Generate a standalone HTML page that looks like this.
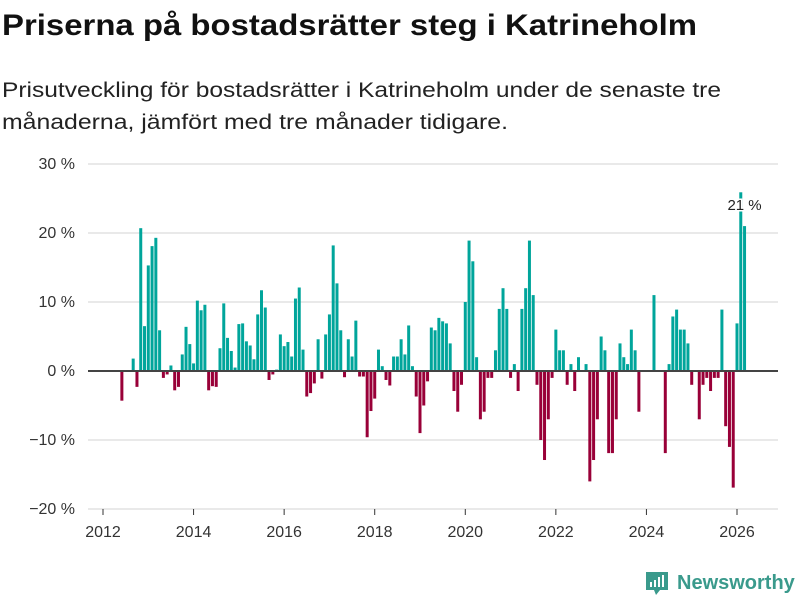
<!DOCTYPE html>
<html><head><meta charset="utf-8"><style>
body{margin:0;background:#fff;width:800px;height:600px;overflow:hidden;font-family:"Liberation Sans",sans-serif}
</style></head><body>
<svg id="chart" width="800" height="600" xmlns="http://www.w3.org/2000/svg">
<text x="2" y="35" font-size="30" font-weight="bold" fill="#111" textLength="695" lengthAdjust="spacingAndGlyphs">Priserna på bostadsrätter steg i Katrineholm</text>
<text x="2" y="97" font-size="21.5" fill="#222" textLength="719" lengthAdjust="spacingAndGlyphs">Prisutveckling för bostadsrätter i Katrineholm under de senaste tre</text>
<text x="2" y="129" font-size="21.5" fill="#222" textLength="506" lengthAdjust="spacingAndGlyphs">månaderna, jämfört med tre månader tidigare.</text>
<g id="grid"></g><g id="bars"></g><g id="axes"></g>
<g>
<path d="M646 572 h22 v18 h-8 l-4 5 l-2-5 h-8 z" fill="#3a9a8c"/>
<rect x="650" y="582" width="2" height="5" fill="#fff"/><rect x="654" y="580" width="2" height="7" fill="#fff"/><rect x="658" y="577" width="2" height="10" fill="#fff"/><rect x="662" y="575" width="2" height="12" fill="#fff"/>
<text x="677" y="589" font-size="20" font-weight="bold" fill="#3a9a8c">Newsworthy</text>
</g>
</svg>
<script>
const startYear = 2012;
const values = [null,null,null,null,null,-4.3,null,null,
1.8,-2.3,20.7,6.5,15.3,18.1,19.3,5.9,-1,-0.5,0.8,-2.8,-2.3,2.4,6.4,3.9,1.1,10.2,8.8,9.6,-2.8,-2.2,-2.3,3.3,9.8,4.8,2.9,0.5,6.8,6.9,4.3,3.7,1.7,8.2,11.7,9.2,-1.3,-0.5,
0.2,5.3,3.6,4.2,2.1,10.5,12.1,3.1,-3.7,-3.2,-1.8,4.6,-1.1,5.3,8.2,18.2,12.7,5.9,-0.9,4.6,2.1,7.3,-0.8,-0.8,-9.6,-5.8,-4.0,3.1,0.7,-1.3,-2.1,2.1,2.1,4.6,2.4,6.6,0.7,-3.7,-9.0,-5.0,-1.5,6.3,5.9,7.7,7.2,6.9,4.0,
-2.9,-5.9,-2.0,10.0,18.9,15.9,2.0,-7.0,-5.9,-1.0,-1.0,3.0,9.0,12.0,9.0,-1.0,1.0,-2.9,9.0,12.0,18.9,11.0,-2.0,-10.0,-12.9,-7.0,-1.0,6.0,3.0,3.0,-2.0,1.0,-2.9,2.0,null,1.0,-16.0,-12.9,-7.0,5.0,3.0,-11.9,-11.9,-7.0,4.0,2.0,1.0,6.0,3.0,-5.9,null,null,null,11.0,null,null,-11.9,1.0,7.9,8.9,6.0,6.0,4.0,-2.0,null,-7.0,-2.0,-1.0,-2.9,-1.0,-1.0,8.9,-8.0,-11.0,-16.9,6.9,25.9,21.0];
const yTicks = [30,20,10,0,-10,-20];
const yTickLabels = ["30 %","20 %","10 %","0 %","\u221210 %","\u221220 %"];
const xTicks = [2012,2014,2016,2018,2020,2022,2024,2026];
const lastLabel = "21 %";

const NS="http://www.w3.org/2000/svg";
const x0=103, yearW=(737-103)/14;
function xm(i){return x0+i*yearW/12;}
function xy(yr){return x0+(yr-startYear)*yearW;}
function y(v){return 371-v*6.9;}
function mk(tag,attrs,parent){const e=document.createElementNS(NS,tag);for(const k in attrs)e.setAttribute(k,attrs[k]);parent.appendChild(e);return e;}
const grid=document.getElementById('grid'),bars=document.getElementById('bars'),axes=document.getElementById('axes');
yTicks.forEach((t,k)=>{
  if(t!==0){const l=mk('line',{x1:88,x2:778,y1:y(t),y2:y(t),stroke:'#e2e2e2','stroke-width':1.5},grid);
  
  }
  const tx=mk('text',{x:75,y:y(t)+5,'text-anchor':'end','font-size':16,fill:'#333'},axes);
  tx.textContent=yTickLabels[k];
  
  
});
values.forEach((v,i)=>{
  if(v===null)return;
  const cx=xm(i);
  const r=mk('rect',{x:cx-1.5,width:3,y:Math.min(y(v),y(0)),height:Math.abs(y(v)-y(0)),fill:v>=0?'#00a59b':'#990038'},bars);
  
  
});
const zl=mk('line',{x1:88,x2:778,y1:y(0),y2:y(0),stroke:'#444','stroke-width':2},axes);


xTicks.forEach(t=>{
  const tl=mk('line',{x1:xy(t),x2:xy(t),y1:y(-20),y2:y(-20)+6,stroke:'#333','stroke-width':1},axes);
  
  
  const tx=mk('text',{x:xy(t),y:537,'text-anchor':'middle','font-size':16,fill:'#333'},axes);
  tx.textContent=t;
  
  
});
const li=values.length-1;
const lb=mk('text',{x:xm(li),y:y(values[li])-16,'text-anchor':'middle','font-size':15,fill:'#222',stroke:'#fff','stroke-width':3,'paint-order':'stroke'},axes);
lb.textContent=lastLabel;


</script>
</body></html>
